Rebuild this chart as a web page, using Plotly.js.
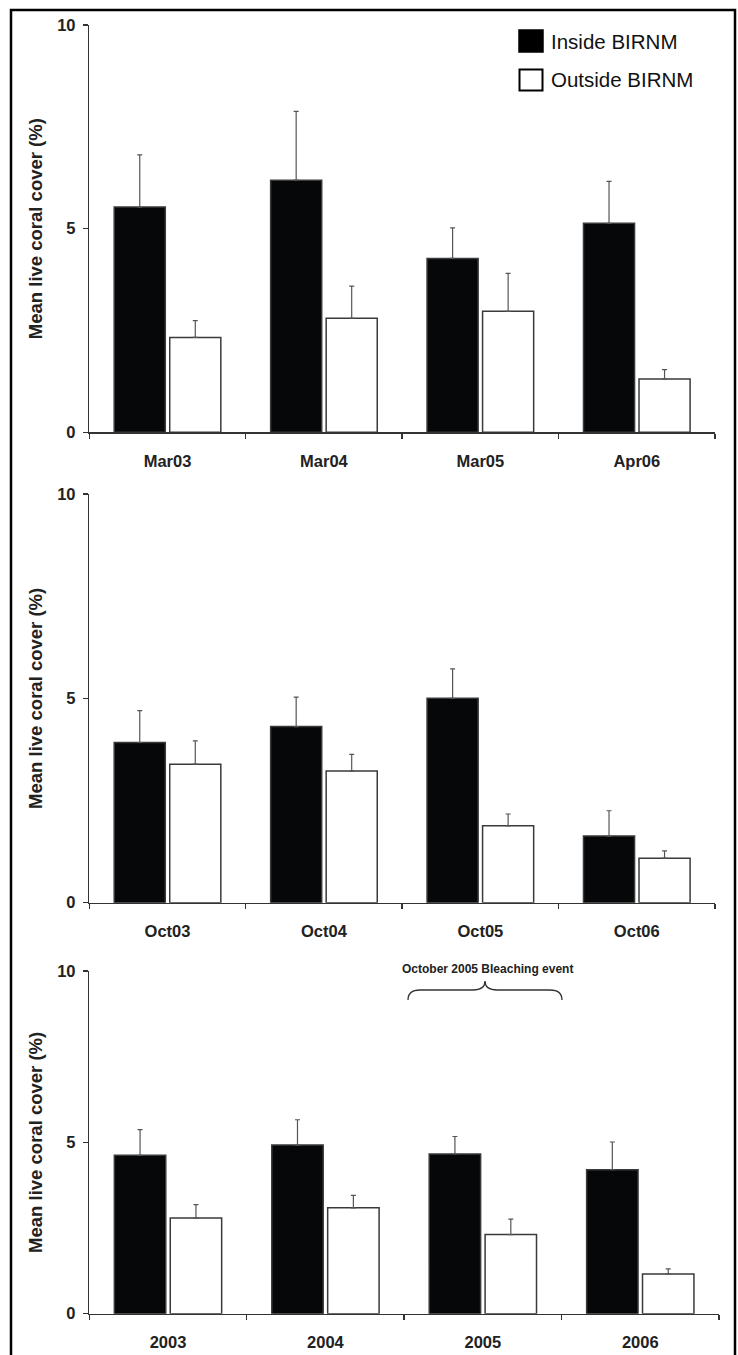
<!DOCTYPE html>
<html>
<head>
<meta charset="utf-8">
<script src="https://cdn.plot.ly/plotly-3.0.1.min.js"></script>
<style>
html,body{margin:0;padding:0;background:#fff;}
#chart{width:738px;height:1355px;}
</style>
</head>
<body>
<div id="chart"></div>
<script>
// ---- data ----
const catsP1 = ["Mar03", "Mar04", "Mar05", "Apr06"];
const catsP2 = ["Oct03", "Oct04", "Oct05", "Oct06"];
const catsP3 = ["2003", "2004", "2005", "2006"];

const insideP1 = [5.53, 6.19, 4.27, 5.13];
const insideErrP1 = [1.28, 1.69, 0.75, 1.03];
const outsideP1 = [2.33, 2.80, 2.97, 1.31];
const outsideErrP1 = [0.41, 0.79, 0.93, 0.23];

const insideP2 = [3.92, 4.31, 5.00, 1.63];
const insideErrP2 = [0.78, 0.72, 0.72, 0.62];
const outsideP2 = [3.39, 3.22, 1.88, 1.09];
const outsideErrP2 = [0.57, 0.41, 0.29, 0.18];

const insideP3 = [4.62, 4.92, 4.66, 4.20];
const insideErrP3 = [0.75, 0.74, 0.51, 0.81];
const outsideP3 = [2.79, 3.09, 2.31, 1.16];
const outsideErrP3 = [0.39, 0.36, 0.45, 0.15];

const noLowerErr = [0, 0, 0, 0];
const seriesNames = ["Inside BIRNM", "Outside BIRNM"];
const yTicks = [0, 5, 10];
const yTitle = "Mean live coral cover (%)";
const eventLabel = "October 2005 Bleaching event";

// ---- build ----
const W = 738, H = 1355;
const px = v => v / W;
const py = v => 1 - v / H;

function barTrace(cats, vals, errs, idx, fill, name) {
  return {
    type: 'bar', x: cats, y: vals, name: name, showlegend: false,
    xaxis: 'x' + (idx === 1 ? '' : idx), yaxis: 'y' + (idx === 1 ? '' : idx),
    marker: {color: fill, line: {color: '#3a3a3a', width: 1.5}},
    error_y: {type: 'data', symmetric: false, array: errs, arrayminus: noLowerErr,
              color: '#555', thickness: 1.2, width: 2.5},
    hoverinfo: 'skip'
  };
}

const data = [
  barTrace(catsP1, insideP1, insideErrP1, 1, '#050708', seriesNames[0]),
  barTrace(catsP1, outsideP1, outsideErrP1, 1, '#ffffff', seriesNames[1]),
  barTrace(catsP2, insideP2, insideErrP2, 2, '#050708', seriesNames[0]),
  barTrace(catsP2, outsideP2, outsideErrP2, 2, '#ffffff', seriesNames[1]),
  barTrace(catsP3, insideP3, insideErrP3, 3, '#050708', seriesNames[0]),
  barTrace(catsP3, outsideP3, outsideErrP3, 3, '#ffffff', seriesNames[1])
];

const tickFont = {family: 'Liberation Sans, Arial, sans-serif', size: 16.5, color: '#222', weight: 'bold'};

function xAxis(anchor, dom) {
  return {
    domain: dom, anchor: anchor, type: 'category',
    showline: true, linecolor: '#333', linewidth: 1.5,
    ticks: 'outside', tickson: 'boundaries', ticklen: 5, tickwidth: 1.5, tickcolor: '#333',
    tickfont: tickFont, ticklabelstandoff: 13,
    showgrid: false, zeroline: false, fixedrange: true
  };
}
function yAxis(anchor, dom) {
  return {
    domain: dom, anchor: anchor, range: [0, 10],
    tickvals: yTicks, ticktext: yTicks.map(String),
    showline: true, linecolor: '#333', linewidth: 1.5,
    ticks: 'outside', ticklen: 5, tickwidth: 1.5, tickcolor: '#333',
    tickfont: tickFont, ticklabelstandoff: 4,
    showgrid: false, zeroline: false, fixedrange: true,
    title: {text: yTitle, font: {family: 'Liberation Sans, Arial, sans-serif', size: 18.5, color: '#222', weight: 'bold'}, standoff: 9}
  };
}

const xd12 = [px(89.3), px(715)];
const xd3 = [px(89.3), px(719)];

const layout = {
  width: W, height: H,
  margin: {l: 0, r: 0, t: 0, b: 0},
  paper_bgcolor: '#fff', plot_bgcolor: 'rgba(0,0,0,0)',
  barmode: 'group', bargap: 0.29, bargroupgap: 0.08,
  showlegend: false,
  xaxis: xAxis('y', xd12),
  yaxis: yAxis('x', [py(432.3), py(25)]),
  xaxis2: xAxis('y2', xd12),
  yaxis2: yAxis('x2', [py(902.7), py(494)]),
  xaxis3: xAxis('y3', xd3),
  yaxis3: yAxis('x3', [py(1313.7), py(971)]),
  shapes: [
    // outer frame
    {type: 'rect', xref: 'paper', yref: 'paper', x0: px(11), x1: px(735), y0: py(1362), y1: py(10),
     line: {color: '#000', width: 2.5}, fillcolor: 'rgba(0,0,0,0)'},
    // legend swatches
    {type: 'rect', xref: 'paper', yref: 'paper', x0: px(519), x1: px(543), y0: py(52), y1: py(30),
     line: {color: '#000', width: 1.5}, fillcolor: '#000'},
    {type: 'rect', xref: 'paper', yref: 'paper', x0: px(519.5), x1: px(542.5), y0: py(90.5), y1: py(69.5),
     line: {color: '#000', width: 2}, fillcolor: '#fff'},
    // brace for bleaching event
    {type: 'path', xref: 'paper', yref: 'paper',
     path: 'M ' + px(408) + ',' + py(1000) + ' Q ' + px(408) + ',' + py(990) + ' ' + px(420) + ',' + py(990) +
           ' L ' + px(473) + ',' + py(990) + ' Q ' + px(485) + ',' + py(990) + ' ' + px(485) + ',' + py(981) +
           ' Q ' + px(485) + ',' + py(990) + ' ' + px(497) + ',' + py(990) +
           ' L ' + px(550) + ',' + py(990) + ' Q ' + px(562) + ',' + py(990) + ' ' + px(562) + ',' + py(1000),
     line: {color: '#333', width: 1.3}}
  ],
  annotations: [
    {xref: 'paper', yref: 'paper', x: px(549), y: py(41.5), text: seriesNames[0], showarrow: false,
     xanchor: 'left', yanchor: 'middle', font: {family: 'Liberation Sans, Arial, sans-serif', size: 20.5, color: '#111'}},
    {xref: 'paper', yref: 'paper', x: px(549), y: py(80), text: seriesNames[1], showarrow: false,
     xanchor: 'left', yanchor: 'middle', font: {family: 'Liberation Sans, Arial, sans-serif', size: 20.5, color: '#111'}},
    {xref: 'paper', yref: 'paper', x: px(487), y: py(969), text: eventLabel, showarrow: false,
     xanchor: 'center', yanchor: 'middle', font: {family: 'Liberation Sans, Arial, sans-serif', size: 12, color: '#222', weight: 'bold'}}
  ]
};

Plotly.newPlot('chart', data, layout, {staticPlot: true, displayModeBar: false});
</script>
</body>
</html>
